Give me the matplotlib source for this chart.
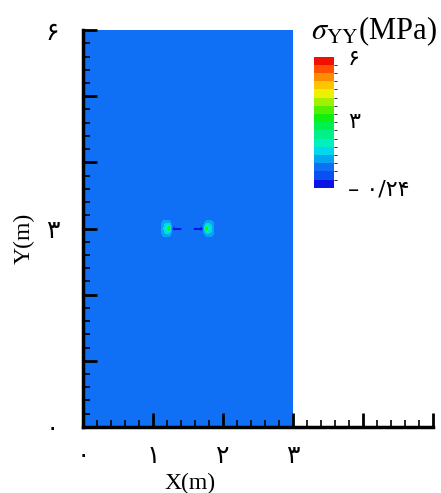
import numpy as np
import matplotlib
matplotlib.use("Agg")
import matplotlib.pyplot as plt
from matplotlib.colors import ListedColormap, BoundaryNorm
from matplotlib.ticker import MultipleLocator

# domain of the plate (m) and plot limits
plate_w = 3.0
plate_h = 6.0
x_lim = (0, 5)
y_lim = (0, 6)

# stress range and far field value (MPa)
s_min = -0.24
s_max = 6.0
s_far = 0.75

# crack along y = 3
crack_y = 3.0
tip_left = 1.23
tip_right = 1.76

# stress around one crack tip: dx is distance away from the crack, dy vertical offset
tip_dx = [-0.08, -0.04, 0.0, 0.03, 0.06, 0.09, 0.12, 0.16]
tip_dy = [-0.15, -0.10, -0.05, 0.0, 0.05, 0.10, 0.15]
tip_s = [
    [0.75, 0.75, 0.75, 0.75, 0.75, 0.75, 0.75, 0.75],
    [0.75, 0.80, 1.00, 1.10, 1.05, 0.95, 0.80, 0.75],
    [0.60, 0.90, 1.50, 1.60, 1.45, 1.05, 0.85, 0.75],
    [0.00, 0.30, 3.40, 2.00, 1.50, 1.10, 0.85, 0.75],
    [0.60, 0.90, 1.50, 1.60, 1.45, 1.05, 0.85, 0.75],
    [0.75, 0.80, 1.00, 1.10, 1.05, 0.95, 0.80, 0.75],
    [0.75, 0.75, 0.75, 0.75, 0.75, 0.75, 0.75, 0.75],
]

# tick labels (persian digits)
x_ticks = [0, 1, 2, 3, 4, 5]
x_ticklabels = ["۰", "۱", "۲", "۳", "", ""]
y_ticks = [0, 1, 2, 3, 4, 5, 6]
y_ticklabels = ["۰", "", "", "۳", "", "", "۶"]
cb_ticks = [s_min, 3, 6]
cb_ticklabels = ["– ۰/۲۴", "۳", "۶"]

# tecplot like rainbow, 16 bands
band_colors = ["#0a14e6", "#0a50f5", "#1070f5", "#05a5f0", "#00d8eb", "#00f0c0",
               "#00f08a", "#00f050", "#10f010", "#50f000", "#a0f000", "#eef000",
               "#ffc400", "#ff8c00", "#ff5000", "#f01000"]
cmap = ListedColormap(band_colors)
levels = np.linspace(s_min, s_max, len(band_colors) + 1)
norm = BoundaryNorm(levels, cmap.N)

digit_font = ["DejaVu Sans"]
serif_font = ["Liberation Serif", "DejaVu Serif"]
plt.rcParams["mathtext.fontset"] = "stix"

fig = plt.figure(figsize=(4.41, 4.93), dpi=100)
ax = fig.add_axes([0.188, 0.134, 0.794, 0.805])

# far field
ax.pcolormesh([0, plate_w], [0, plate_h], [[s_far]], cmap=cmap, norm=norm)

# crack tips
dx = np.array(tip_dx)
dy = np.array(tip_dy)
S = np.array(tip_s)
cf = ax.contourf(tip_right + dx, crack_y + dy, S, levels=levels, cmap=cmap, norm=norm)
ax.contourf(tip_left - dx, crack_y + dy, S, levels=levels, cmap=cmap, norm=norm)

# crack faces
ax.plot([tip_left + 0.05, tip_right - 0.05], [crack_y, crack_y], color=band_colors[0],
        lw=1.5, linestyle=(0, (4, 6)))

ax.set_xlim(x_lim)
ax.set_ylim(y_lim)
ax.set_xticks(x_ticks)
ax.set_xticklabels(x_ticklabels, family=digit_font, fontsize=18)
ax.set_yticks(y_ticks)
ax.set_yticklabels(y_ticklabels, family=digit_font, fontsize=18)
ax.xaxis.set_minor_locator(MultipleLocator(0.2))
ax.yaxis.set_minor_locator(MultipleLocator(0.2))
ax.tick_params(which="major", direction="in", length=10, width=2)
ax.tick_params(axis="x", which="major", pad=12)
ax.tick_params(axis="y", which="major", pad=17)
ax.tick_params(which="minor", direction="in", length=5, width=1.2)
ax.spines["top"].set_visible(False)
ax.spines["right"].set_visible(False)
ax.spines["left"].set_linewidth(2.5)
ax.spines["bottom"].set_linewidth(2.5)

ax.set_xlabel("X(m)", family=serif_font, fontsize=17)
ax.xaxis.set_label_coords(0.306, -0.117)
ax.set_ylabel("Y(m)", family=serif_font, fontsize=17)
ax.yaxis.set_label_coords(-0.137, 0.476)

# colorbar
cax = fig.add_axes([0.712, 0.619, 0.045, 0.266])
cb = fig.colorbar(cf, cax=cax, ticks=cb_ticks)
cb.outline.set_visible(False)
cb.ax.set_yticklabels(cb_ticklabels, family=digit_font, fontsize=16)
cb.ax.tick_params(length=0, pad=10)
fig.text(0.848, 0.937, r"$\sigma_{\mathrm{YY}}$(MPa)", family=serif_font, fontsize=22,
         ha="center", va="center")

fig.savefig("out.png", dpi=100)
